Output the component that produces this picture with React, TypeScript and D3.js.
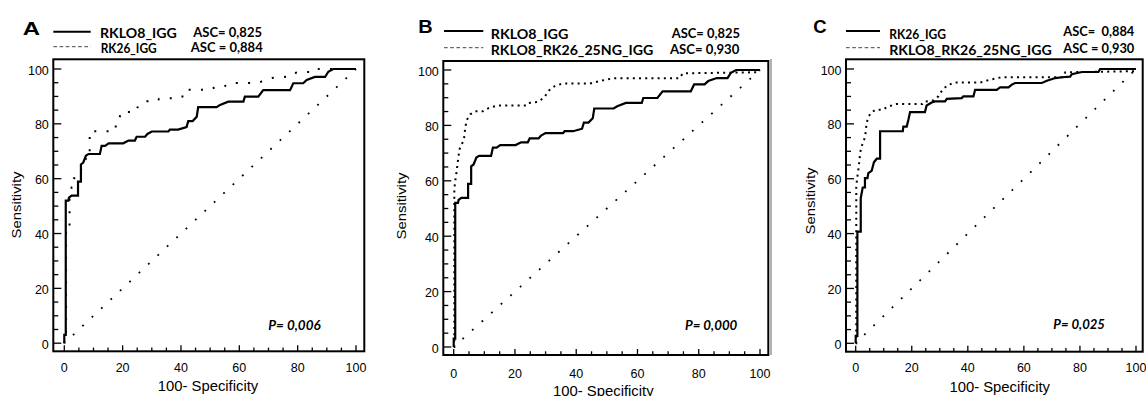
import React from 'react';
import * as d3 from 'd3';

type Pt = [number, number];

// ---------- data (100-Specificity, Sensitivity) ----------
const RKLO8_IGG: Pt[] = [
  [0, 0], [0, 3], [0.5, 3], [0.5, 52.0], [1.4, 52.0], [1.6, 53.1], [2.5, 53.8], [4.7, 53.8],
  [4.7, 58.9], [5.7, 58.9], [5.7, 65.2], [6.5, 65.9], [7.4, 68.4], [8.3, 69.0], [12.2, 69.0],
  [12.8, 72.0], [14.0, 72.0], [15.2, 72.9], [20.2, 72.9], [22.0, 73.9], [24.2, 73.9], [24.8, 75.3],
  [27.7, 75.3], [28.5, 76.3], [30.0, 77.2], [35.7, 77.2], [36.2, 77.9], [39.0, 77.9], [41.9, 78.8],
  [42.5, 81.0], [44.0, 81.0], [45.4, 82.6], [45.9, 86.1], [52.2, 86.1], [53.4, 86.9], [56.2, 88.1],
  [61.4, 88.1], [61.9, 89.9], [66.5, 89.9], [68.2, 92.3], [77.4, 92.3], [78.5, 94.8], [81.9, 94.8],
  [83.1, 96.0], [85.9, 97.1], [89.4, 97.1], [90.5, 99.0], [92.2, 100], [100, 100],
];

const RK26_IGG: Pt[] = [
  [0, 0], [0, 2.7], [0.6, 2.7], [0.6, 40.7], [1.8, 40.7], [1.8, 52.9], [2.5, 56.8], [3.3, 56.8],
  [3.3, 60.2], [4.2, 60.2], [4.5, 62.0], [5.7, 62.9], [6.5, 66.0], [7.5, 67.3], [8.7, 67.3],
  [8.7, 77.3], [16.8, 77.3], [17.0, 79.0], [18.2, 79.0], [18.8, 81.5], [19.4, 84.3], [24.7, 84.3],
  [25.3, 86.7], [27.1, 87.8], [28.3, 88.2], [31.9, 88.2], [32.5, 89.1], [37.8, 89.4], [38.4, 90.0],
  [42.0, 90.0], [42.6, 92.4], [50.3, 92.4], [51.5, 93.3], [54.5, 93.3], [55.7, 94.3], [56.9, 94.9],
  [66.4, 94.9], [68.2, 95.7], [71.2, 96.7], [73.6, 97.0], [76.5, 97.2], [77.1, 98.1], [80.7, 98.9],
  [86.6, 98.9], [87.2, 100], [100, 100],
];

const RKLO8_RK26_25NG_IGG: Pt[] = [
  [0, 0], [0.2, 0], [0.2, 57.0], [0.5, 60.0], [1.0, 63.7], [1.4, 67.5], [1.9, 71.4], [2.7, 73.2],
  [3.4, 75.6], [3.8, 79.4], [4.3, 82.0], [5.4, 84.0], [7.0, 85.1], [9.6, 85.1], [11.5, 86.3],
  [14.5, 87.2], [23.8, 87.2], [24.5, 88.1], [27.5, 88.5], [29.5, 90.0], [31.0, 92.5], [33.0, 94.2],
  [35.5, 95.1], [44.5, 95.1], [47.5, 96.0], [52.0, 97.0], [73.7, 97.0], [74.8, 98.8], [100, 99.2],
];

const DIAGONAL: Pt[] = [[0, 0], [100, 100]];

const MAJOR_TICKS = [0, 20, 40, 60, 80, 100];
const MINOR_TICKS = d3.range(0, 101, 5);

const PANEL_LETTERS = ['A', 'B', 'C'];
const LEGEND_NAMES = [
  ['RKLO8_IGG', 'RK26_IGG'],
  ['RKLO8_IGG', 'RKLO8_RK26_25NG_IGG'],
  ['RK26_IGG', 'RKLO8_RK26_25NG_IGG'],
];
const LEGEND_AUC = [
  ['ASC= 0,825', 'ASC = 0,884'],
  ['ASC= 0,825', 'ASC= 0,930'],
  ['ASC=  0,884', 'ASC = 0,930'],
];
const P_VALUES = ['P= 0,006', 'P= 0,000', 'P= 0,025'];
const X_TITLE = '100- Specificity';
const Y_TITLE = 'Sensitivity';

// ---------- styles / layout ----------
const AX_FONT = "'Liberation Sans', Arial, sans-serif";
const LEG_FONT = "Lato, 'Open Sans', sans-serif";

const STYLE_SPARSE = { width: 2, dash: '2 10.3' };
const STYLE_DENSE = { width: 2, dash: '2 4.2' };
const STYLE_SOLID = { width: 2.2, dash: undefined as string | undefined };

const SERIES = [
  [{ data: RKLO8_IGG, s: STYLE_SOLID }, { data: RK26_IGG, s: STYLE_SPARSE }],
  [{ data: RKLO8_IGG, s: STYLE_SOLID }, { data: RKLO8_RK26_25NG_IGG, s: STYLE_DENSE }],
  [{ data: RK26_IGG, s: STYLE_SOLID }, { data: RKLO8_RK26_25NG_IGG, s: STYLE_DENSE }],
];

interface Layout {
  frame: { l: number; r: number; t: number; b: number };
  xr: [number, number];
  yr: [number, number];
  letter: { x: number; y: number; w: number };
  legLine: { x1: number; x2: number; y1: number; y2: number };
  names: { x: number; y: number; w: number }[];
  aucs: { x: number; y: number; w: number }[];
  p: { x: number; y: number; w: number };
  yTitle: { x: number; y: number };
  xTitle: { x: number; y: number };
  xTickBase: number;
}

const LAYOUTS: Layout[] = [
  {
    frame: { l: 53.3, r: 364.3, t: 59.3, b: 351.3 },
    xr: [64.3, 356], yr: [343.2, 69],
    letter: { x: 22.7, y: 35, w: 17.3 },
    legLine: { x1: 53.3, x2: 90.7, y1: 31.7, y2: 46.7 },
    names: [{ x: 100, y: 38.3, w: 76.7 }, { x: 100.7, y: 53.3, w: 56 }],
    aucs: [{ x: 193.3, y: 36.7, w: 68.7 }, { x: 190.7, y: 51.7, w: 72 }],
    p: { x: 268.3, y: 330, w: 52.4 },
    yTitle: { x: 15.8, y: 205 },
    xTitle: { x: 208, y: 390.7 },
    xTickBase: 372,
  },
  {
    frame: { l: 443.3, r: 768.3, t: 61, b: 355 },
    xr: [453.7, 760], yr: [347, 70],
    letter: { x: 418.3, y: 33.3, w: 14.4 },
    legLine: { x1: 444, x2: 483.3, y1: 31, y2: 47.7 },
    names: [{ x: 490.7, y: 39.3, w: 77.6 }, { x: 490.7, y: 55, w: 162.6 }],
    aucs: [{ x: 671.7, y: 37.7, w: 68.3 }, { x: 670, y: 54.3, w: 69.3 }],
    p: { x: 685, y: 329.5, w: 52.3 },
    yTitle: { x: 401, y: 206 },
    xTitle: { x: 603.3, y: 395.5 },
    xTickBase: 377.7,
  },
  {
    frame: { l: 846, r: 1142.7, t: 59.3, b: 351.7 },
    xr: [855.7, 1136], yr: [343.3, 69],
    letter: { x: 813.3, y: 32.7, w: 13.4 },
    legLine: { x1: 846, x2: 880, y1: 31, y2: 47.7 },
    names: [{ x: 889.3, y: 39.3, w: 56.7 }, { x: 889.3, y: 55, w: 162.4 }],
    aucs: [{ x: 1063.3, y: 36, w: 71 }, { x: 1063.3, y: 53.3, w: 71 }],
    p: { x: 1053.3, y: 329.3, w: 51.7 },
    yTitle: { x: 810, y: 201 },
    xTitle: { x: 999.7, y: 391.7 },
    xTickBase: 372,
  },
];

function Panel({ i }: { i: number }) {
  const L = LAYOUTS[i];
  const x = d3.scaleLinear().domain([0, 100]).range(L.xr);
  const y = d3.scaleLinear().domain([0, 100]).range(L.yr);
  const line = d3.line<Pt>().x((d) => x(d[0])).y((d) => y(d[1]));
  const { l, r, t, b } = L.frame;
  const series = SERIES[i];

  return (
    <g>
      {/* diagonal reference */}
      <path d={line(DIAGONAL) || ''} fill="none" stroke="#000" strokeWidth={1.8}
        strokeDasharray="1.8 11.1" strokeDashoffset={1} />
      {/* curves: dotted first, then solid */}
      {[series[1], series[0]].map((sr, k) => (
        <path key={k} d={line(sr.data) || ''} fill="none" stroke="#000"
          strokeWidth={sr.s.width} strokeDasharray={sr.s.dash} strokeLinejoin="miter" />
      ))}
      {/* frame */}
      <rect x={l} y={t} width={r - l} height={b - t} fill="none" stroke="#000" strokeWidth={2} />
      {/* y ticks */}
      {MINOR_TICKS.map((v) => {
        const major = v % 20 === 0;
        return <line key={'y' + v} x1={l} x2={l + (major ? 8 : 5)} y1={y(v)} y2={y(v)}
          stroke="#000" strokeWidth={1.3} />;
      })}
      {/* x ticks */}
      {MINOR_TICKS.map((v) => {
        const major = v % 20 === 0;
        return <line key={'x' + v} x1={x(v)} x2={x(v)} y1={b} y2={b - (major ? 6 : 3.7)}
          stroke="#000" strokeWidth={1.3} />;
      })}
      {MAJOR_TICKS.map((v) => (
        <text key={'yl' + v} x={l - 4.5} y={y(v) + 5.5} textAnchor="end"
          fontFamily={AX_FONT} fontSize={12.5} fill="#000">{v}</text>
      ))}
      {MAJOR_TICKS.map((v) => (
        <text key={'xl' + v} x={x(v)} y={L.xTickBase} textAnchor="middle"
          fontFamily={AX_FONT} fontSize={12.5} fill="#000">{v}</text>
      ))}
      {/* axis titles */}
      <text x={L.xTitle.x} y={L.xTitle.y} textAnchor="middle" fontFamily={AX_FONT}
        fontSize={14} textLength={100.6} lengthAdjust="spacingAndGlyphs">{X_TITLE}</text>
      <text transform={`translate(${L.yTitle.x},${L.yTitle.y}) rotate(-90)`} textAnchor="middle"
        dy="0.35em" fontFamily={AX_FONT} fontSize={13.5} textLength={67}
        lengthAdjust="spacingAndGlyphs">{Y_TITLE}</text>
      {/* P value */}
      <text x={L.p.x} y={L.p.y} fontFamily={LEG_FONT} fontWeight="bold" fontStyle="italic"
        fontSize={14} textLength={L.p.w} lengthAdjust="spacingAndGlyphs">{P_VALUES[i]}</text>
      {/* panel letter */}
      <text x={L.letter.x} y={L.letter.y} fontFamily={AX_FONT} fontWeight="bold" fontSize={19}
        textLength={L.letter.w} lengthAdjust="spacingAndGlyphs">{PANEL_LETTERS[i]}</text>
      {/* legend */}
      <line x1={L.legLine.x1} x2={L.legLine.x2} y1={L.legLine.y1} y2={L.legLine.y1}
        stroke="#000" strokeWidth={2} />
      <line x1={L.legLine.x1} x2={L.legLine.x2} y1={L.legLine.y2} y2={L.legLine.y2}
        stroke="#444" strokeWidth={1} strokeDasharray="3.7 2.5" />
      {LEGEND_NAMES[i].map((nm, k) => (
        <text key={'n' + k} x={L.names[k].x} y={L.names[k].y} fontFamily={LEG_FONT}
          fontWeight="bold" fontSize={14} textLength={L.names[k].w}
          lengthAdjust="spacingAndGlyphs">{nm}</text>
      ))}
      {LEGEND_AUC[i].map((a, k) => (
        <text key={'a' + k} x={L.aucs[k].x} y={L.aucs[k].y} fontFamily={LEG_FONT}
          fontWeight="bold" fontSize={14} textLength={L.aucs[k].w}
          lengthAdjust="spacingAndGlyphs" xmlSpace="preserve">{a}</text>
      ))}
    </g>
  );
}

export default function App() {
  return (
    <svg width={1146} height={396} viewBox="0 0 1146 396"
      style={{ position: 'absolute', left: 0, top: 0, background: '#fff' }}>
      <rect x={0} y={0} width={1146} height={396} fill="#fff" />
      <line x1={771} x2={771} y1={59} y2={355} stroke="#999" strokeWidth={1.5} />
      {[0, 1, 2].map((i) => <Panel key={i} i={i} />)}
    </svg>
  );
}
